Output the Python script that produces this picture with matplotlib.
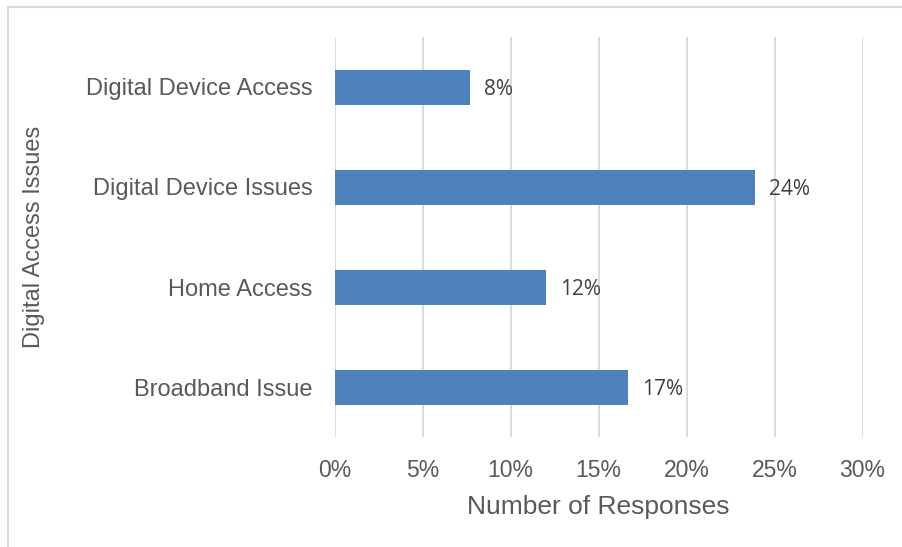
import matplotlib
matplotlib.use("Agg")
import matplotlib.pyplot as plt
from matplotlib.lines import Line2D
from matplotlib.ticker import FuncFormatter

categories = ["Broadband Issue", "Home Access", "Digital Device Issues", "Digital Device Access"]
shares = [16.7, 12.0, 23.9, 7.7]  # percent of responses
x_ticks = [0, 5, 10, 15, 20, 25, 30]

BAR = "#4F81BD"
GRID = "#D9D9D9"
TEXT = "#595959"
LABEL_TEXT = "#404040"

plt.rcParams["font.family"] = ["Liberation Sans", "DejaVu Sans"]

W, H = 902, 547
fig = plt.figure(figsize=(W / 100, H / 100), dpi=100)
ax = fig.add_axes([334.5 / W, 1 - 437 / H, (862.5 - 334.5) / W, 400 / H])

y = list(range(len(categories)))
ax.barh(y, shares, height=0.35, color=BAR, zorder=3)

for yi, v in zip(y, shares):
    ax.annotate(f"{v:.0f}%", xy=(v, yi), xytext=(10, -1.5), textcoords="offset points",
                va="center", ha="left", fontsize=15, color=LABEL_TEXT,
                family=["Open Sans", "DejaVu Sans"])

ax.set_xlim(0, 30)
ax.set_ylim(-0.5, len(categories) - 0.5)
ax.set_xticks(x_ticks)
ax.xaxis.set_major_formatter(FuncFormatter(lambda v, p: f"{v:.0f}%"))
ax.set_yticks(y)
ax.set_yticklabels(categories)

ax.grid(axis="x", color=GRID, linewidth=1.3, zorder=0)
ax.grid(axis="y", visible=False)
for s in ax.spines.values():
    s.set_visible(False)
ax.tick_params(axis="both", length=0, colors=TEXT)
ax.tick_params(axis="x", pad=16, labelsize=16.5)
ax.tick_params(axis="y", pad=16, labelsize=17)

ax.set_xlabel("Number of Responses", fontsize=19, color=TEXT)
ax.set_ylabel("Digital Access Issues", fontsize=17, color=TEXT)
ax.xaxis.label.set_va("baseline")
ax.xaxis.set_label_coords(0.5, -(514 - 437) / 400)
ax.yaxis.label.set_va("center")
ax.yaxis.set_label_coords((34 - 334.5) / 528, 0.5)

# light frame around the chart area (top and left edges)
fig.add_artist(Line2D([8 / W, 8 / W], [0, 1 - 6.5 / H], transform=fig.transFigure,
                      color=GRID, linewidth=1.5))
fig.add_artist(Line2D([8 / W, 1], [1 - 6.5 / H, 1 - 6.5 / H], transform=fig.transFigure,
                      color=GRID, linewidth=1.5))

fig.savefig("out.png", dpi=100)
